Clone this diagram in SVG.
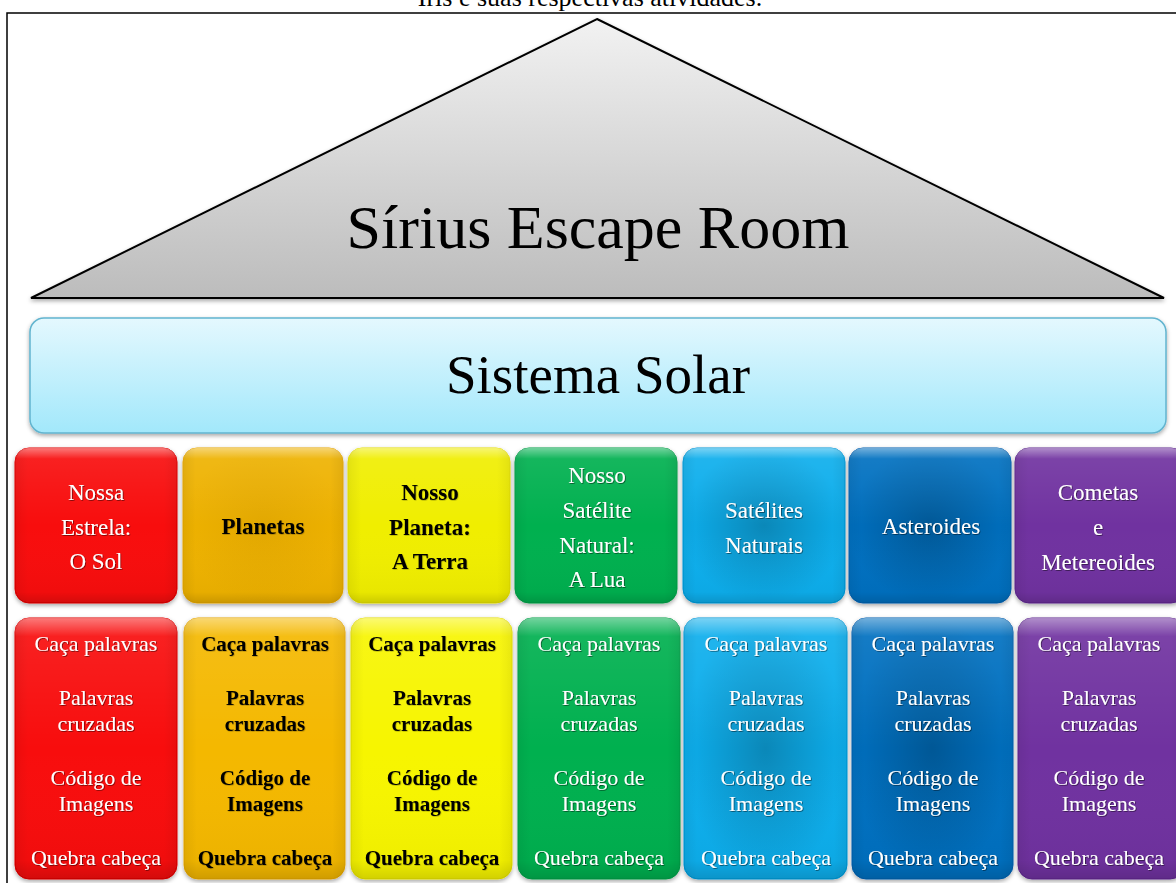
<svg xmlns="http://www.w3.org/2000/svg" width="1176" height="883" viewBox="0 0 1176 883">
<defs>
  <linearGradient id="gTri" x1="0" y1="0" x2="0" y2="1">
    <stop offset="0" stop-color="#f2f2f2"/>
    <stop offset="1" stop-color="#bcbcbc"/>
  </linearGradient>
  <linearGradient id="gSolar" x1="0" y1="0" x2="0" y2="1">
    <stop offset="0" stop-color="#e4f8fe"/>
    <stop offset="1" stop-color="#a2e8fb"/>
  </linearGradient>
  <linearGradient id="gGloss" x1="0" y1="0" x2="0" y2="1">
    <stop offset="0" stop-color="#ffffff" stop-opacity="0.45"/>
    <stop offset="0.07" stop-color="#ffffff" stop-opacity="0.08"/>
    <stop offset="0.5" stop-color="#ffffff" stop-opacity="0"/>
    <stop offset="0.93" stop-color="#000000" stop-opacity="0.03"/>
    <stop offset="1" stop-color="#000000" stop-opacity="0.15"/>
  </linearGradient>
  <linearGradient id="gSide" x1="0" y1="0" x2="1" y2="0">
    <stop offset="0" stop-color="#000000" stop-opacity="0.06"/>
    <stop offset="0.08" stop-color="#000000" stop-opacity="0"/>
    <stop offset="0.92" stop-color="#000000" stop-opacity="0"/>
    <stop offset="1" stop-color="#000000" stop-opacity="0.06"/>
  </linearGradient>
  <radialGradient id="gDark" cx="0.5" cy="0.5" r="0.5">
    <stop offset="0" stop-color="#000000" stop-opacity="0.22"/>
    <stop offset="1" stop-color="#000000" stop-opacity="0"/>
  </radialGradient>
  <radialGradient id="gDarkSoft" cx="0.5" cy="0.5" r="0.5">
    <stop offset="0" stop-color="#8a5a00" stop-opacity="0.12"/>
    <stop offset="1" stop-color="#8a5a00" stop-opacity="0"/>
  </radialGradient>
  <filter id="shadow" x="-10%" y="-10%" width="120%" height="125%">
    <feDropShadow dx="0" dy="2" stdDeviation="2" flood-color="#000" flood-opacity="0.35"/>
  </filter>
  <filter id="tshadow" x="-10%" y="-30%" width="120%" height="160%">
    <feDropShadow dx="0.8" dy="0.8" stdDeviation="0.6" flood-color="#000" flood-opacity="0.55"/>
  </filter>
  <filter id="tshadowLight" x="-10%" y="-30%" width="120%" height="160%">
    <feDropShadow dx="0.6" dy="0.6" stdDeviation="0.5" flood-color="#000" flood-opacity="0.3"/>
  </filter>
  <style>
    .frame{fill:none;stroke:#000;stroke-width:1.5}
    .box{filter:url(#shadow)}
    .gloss{fill:url(#gGloss)}
    .side{fill:url(#gSide)}
    .dark{fill:url(#gDark)}
    .t{font-family:"Liberation Serif","Times New Roman",serif;text-anchor:middle}
    .w{fill:#ffffff;filter:url(#tshadow)}
    .k{fill:#000000;font-weight:bold;filter:url(#tshadowLight)}
    .r1{font-size:23px}
    .r2{font-size:22px}
    .r2b{font-size:21px}
    .red{fill:#f80808;stroke:#e00000;stroke-width:1}
    .orange{fill:#f4b800;stroke:#e8a800;stroke-width:1}
    .yellow{fill:#f7f500;stroke:#e6e000;stroke-width:1}
    .green{fill:#00b050;stroke:#00a048;stroke-width:1}
    .lblue{fill:#08aeec;stroke:#0098d8;stroke-width:1}
    .blue{fill:#0670c0;stroke:#0060b0;stroke-width:1}
    .purple{fill:#7030a0;stroke:#602890;stroke-width:1}
  </style>
</defs>
<rect x="0" y="0" width="1176" height="883" fill="#ffffff"/>

<text class="t" x="590" y="6" font-size="26" fill="#000">Íris e suas respectivas atividades.</text>
<path class="frame" d="M7,883 L7,13 L1176,13"/>

<g id="connectors"></g>

<g id="roof">
  <polygon points="597,19 1164,298 31,298" fill="url(#gTri)" stroke="#000" stroke-width="2" filter="url(#shadow)"/>
  <text class="t" x="598" y="248" font-size="62" fill="#000">Sírius Escape Room</text>
</g>

<g id="sistema-solar">
  <rect x="30" y="318" width="1136" height="115" rx="14" fill="url(#gSolar)" stroke="#62b4cf" stroke-width="1.5" filter="url(#shadow)"/>
  <text class="t" x="598" y="393" font-size="55" fill="#000">Sistema Solar</text>
</g>

<!-- Row 1 -->
<g id="sol">
  <rect class="box red" x="15" y="448" width="162" height="155" rx="14"/>
  <rect class="gloss" x="15" y="448" width="162" height="155" rx="14"/>
  <rect class="side" x="15" y="448" width="162" height="155" rx="14"/>
  <text class="t w r1" x="96" y="500">Nossa</text>
  <text class="t w r1" x="96" y="535">Estrela:</text>
  <text class="t w r1" x="96" y="569">O Sol</text>
</g>
<g id="planetas">
  <rect class="box orange" x="183" y="448" width="160" height="155" rx="14" style="fill:#eeb200"/>
  <rect x="183" y="448" width="160" height="155" rx="14" fill="url(#gDarkSoft)"/>
  <rect class="gloss" x="183" y="448" width="160" height="155" rx="14"/>
  <rect class="side" x="183" y="448" width="160" height="155" rx="14"/>
  <text class="t k r1" x="263" y="534">Planetas</text>
</g>
<g id="terra">
  <rect class="box yellow" x="348" y="448" width="162" height="155" rx="14" style="fill:#f0ee00"/>
  <rect class="gloss" x="348" y="448" width="162" height="155" rx="14"/>
  <rect class="side" x="348" y="448" width="162" height="155" rx="14"/>
  <text class="t k r1" x="430" y="500">Nosso</text>
  <text class="t k r1" x="430" y="535">Planeta:</text>
  <text class="t k r1" x="430" y="569">A Terra</text>
</g>
<g id="lua">
  <rect class="box green" x="515" y="448" width="162" height="155" rx="14"/>
  <rect class="gloss" x="515" y="448" width="162" height="155" rx="14"/>
  <rect class="side" x="515" y="448" width="162" height="155" rx="14"/>
  <text class="t w r1" x="597" y="483">Nosso</text>
  <text class="t w r1" x="597" y="518">Satélite</text>
  <text class="t w r1" x="597" y="553">Natural:</text>
  <text class="t w r1" x="597" y="587">A Lua</text>
</g>
<g id="satelites">
  <rect class="box lblue" x="683" y="448" width="162" height="155" rx="14"/>
  <rect class="dark" x="683" y="448" width="162" height="155" rx="14"/>
  <rect class="gloss" x="683" y="448" width="162" height="155" rx="14"/>
  <rect class="side" x="683" y="448" width="162" height="155" rx="14"/>
  <text class="t w r1" x="764" y="518">Satélites</text>
  <text class="t w r1" x="764" y="553">Naturais</text>
</g>
<g id="asteroides">
  <rect class="box blue" x="849" y="448" width="162" height="155" rx="14"/>
  <rect class="dark" x="849" y="448" width="162" height="155" rx="14"/>
  <rect class="gloss" x="849" y="448" width="162" height="155" rx="14"/>
  <rect class="side" x="849" y="448" width="162" height="155" rx="14"/>
  <text class="t w r1" x="931" y="534">Asteroides</text>
</g>
<g id="cometas">
  <rect class="box purple" x="1015" y="448" width="170" height="155" rx="14"/>
  <rect class="gloss" x="1015" y="448" width="170" height="155" rx="14"/>
  <rect class="side" x="1015" y="448" width="170" height="155" rx="14"/>
  <text class="t w r1" x="1098" y="500">Cometas</text>
  <text class="t w r1" x="1098" y="535">e</text>
  <text class="t w r1" x="1098" y="570">Metereoides</text>
</g>

<!-- Row 2 -->
<g id="atividades-sol">
  <rect class="box red" x="15" y="618" width="162" height="261" rx="14"/>
  <rect class="gloss" x="15" y="618" width="162" height="261" rx="14"/>
  <rect class="side" x="15" y="618" width="162" height="261" rx="14"/>
  <text class="t w r2" x="96" y="651">Caça palavras</text>
  <text class="t w r2" x="96" y="705">Palavras</text>
  <text class="t w r2" x="96" y="731">cruzadas</text>
  <text class="t w r2" x="96" y="785">Código de</text>
  <text class="t w r2" x="96" y="811">Imagens</text>
  <text class="t w r2" x="96" y="865">Quebra cabeça</text>
</g>
<g id="atividades-planetas">
  <rect class="box orange" x="184" y="618" width="161" height="261" rx="14"/>
  <rect class="gloss" x="184" y="618" width="161" height="261" rx="14"/>
  <rect class="side" x="184" y="618" width="161" height="261" rx="14"/>
  <text class="t k r2b" x="265" y="651">Caça palavras</text>
  <text class="t k r2b" x="265" y="705">Palavras</text>
  <text class="t k r2b" x="265" y="731">cruzadas</text>
  <text class="t k r2b" x="265" y="785">Código de</text>
  <text class="t k r2b" x="265" y="811">Imagens</text>
  <text class="t k r2b" x="265" y="865">Quebra cabeça</text>
</g>
<g id="atividades-terra">
  <rect class="box yellow" x="351" y="618" width="161" height="261" rx="14"/>
  <rect class="gloss" x="351" y="618" width="161" height="261" rx="14"/>
  <rect class="side" x="351" y="618" width="161" height="261" rx="14"/>
  <text class="t k r2b" x="432" y="651">Caça palavras</text>
  <text class="t k r2b" x="432" y="705">Palavras</text>
  <text class="t k r2b" x="432" y="731">cruzadas</text>
  <text class="t k r2b" x="432" y="785">Código de</text>
  <text class="t k r2b" x="432" y="811">Imagens</text>
  <text class="t k r2b" x="432" y="865">Quebra cabeça</text>
</g>
<g id="atividades-lua">
  <rect class="box green" x="518" y="618" width="162" height="261" rx="14"/>
  <rect class="gloss" x="518" y="618" width="162" height="261" rx="14"/>
  <rect class="side" x="518" y="618" width="162" height="261" rx="14"/>
  <text class="t w r2" x="599" y="651">Caça palavras</text>
  <text class="t w r2" x="599" y="705">Palavras</text>
  <text class="t w r2" x="599" y="731">cruzadas</text>
  <text class="t w r2" x="599" y="785">Código de</text>
  <text class="t w r2" x="599" y="811">Imagens</text>
  <text class="t w r2" x="599" y="865">Quebra cabeça</text>
</g>
<g id="atividades-satelites">
  <rect class="box lblue" x="684" y="618" width="163" height="261" rx="14"/>
  <rect class="dark" x="684" y="618" width="163" height="261" rx="14"/>
  <rect class="gloss" x="684" y="618" width="163" height="261" rx="14"/>
  <rect class="side" x="684" y="618" width="163" height="261" rx="14"/>
  <text class="t w r2" x="766" y="651">Caça palavras</text>
  <text class="t w r2" x="766" y="705">Palavras</text>
  <text class="t w r2" x="766" y="731">cruzadas</text>
  <text class="t w r2" x="766" y="785">Código de</text>
  <text class="t w r2" x="766" y="811">Imagens</text>
  <text class="t w r2" x="766" y="865">Quebra cabeça</text>
</g>
<g id="atividades-asteroides">
  <rect class="box blue" x="852" y="618" width="161" height="261" rx="14"/>
  <rect class="dark" x="852" y="618" width="161" height="261" rx="14"/>
  <rect class="gloss" x="852" y="618" width="161" height="261" rx="14"/>
  <rect class="side" x="852" y="618" width="161" height="261" rx="14"/>
  <text class="t w r2" x="933" y="651">Caça palavras</text>
  <text class="t w r2" x="933" y="705">Palavras</text>
  <text class="t w r2" x="933" y="731">cruzadas</text>
  <text class="t w r2" x="933" y="785">Código de</text>
  <text class="t w r2" x="933" y="811">Imagens</text>
  <text class="t w r2" x="933" y="865">Quebra cabeça</text>
</g>
<g id="atividades-cometas">
  <rect class="box purple" x="1018" y="618" width="166" height="261" rx="14"/>
  <rect class="gloss" x="1018" y="618" width="166" height="261" rx="14"/>
  <rect class="side" x="1018" y="618" width="166" height="261" rx="14"/>
  <text class="t w r2" x="1099" y="651">Caça palavras</text>
  <text class="t w r2" x="1099" y="705">Palavras</text>
  <text class="t w r2" x="1099" y="731">cruzadas</text>
  <text class="t w r2" x="1099" y="785">Código de</text>
  <text class="t w r2" x="1099" y="811">Imagens</text>
  <text class="t w r2" x="1099" y="865">Quebra cabeça</text>
</g>
</svg>
